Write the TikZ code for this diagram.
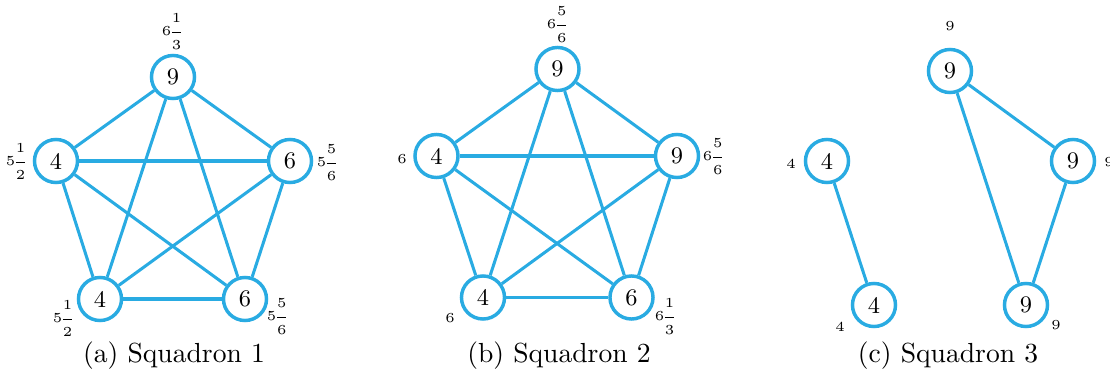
\documentclass[tikz,border=0pt]{standalone}
\definecolor{sqblue}{RGB}{41,171,226}
\newcommand{\mixfr}[3]{$\nulldelimiterspace=0.25pt\displaystyle #1\frac{#2}{#3}$}
\begin{document}
\begin{tikzpicture}[x=0.3623pt,y=-0.3623pt,
  pnode/.style={circle,draw=sqblue,line width=1.25pt,minimum size=15.6pt,inner sep=0pt,fill=white,font=\fontsize{8.6}{10}\selectfont},
  plabel/.style={font=\tiny,inner sep=0pt},
  pedge/.style={draw=sqblue,line width=1.1pt},
  pcap/.style={anchor=base,inner sep=0pt,font=\normalsize}]
\useasboundingbox (0,0) rectangle (1110,370);
% ---------- (a)
\node[pnode] (a1) at (173,77) {9};
\node[pnode] (a2) at (56,161) {4};
\node[pnode] (a3) at (290,161) {6};
\node[pnode] (a4) at (100,299) {4};
\node[pnode] (a5) at (245,299) {6};
\foreach \u/\v in {a1/a2,a1/a3,a1/a4,a1/a5,a2/a3,a2/a4,a2/a5,a3/a4,a3/a5,a4/a5}
  \draw[pedge] (\u) -- (\v);
\node[plabel] (la1) at (172,32) {\mixfr{6}{1}{3}};
\node[plabel] (la2) at (16,162) {\mixfr{5}{1}{2}};
\node[plabel] (la3) at (327,163) {\mixfr{5}{5}{6}};
\node[plabel] (la4) at (63,319) {\mixfr{5}{1}{2}};
\node[plabel] (la5) at (277,317) {\mixfr{5}{5}{6}};
\node[pcap] (ca) at (174,363) {(a) Squadron 1};
% ---------- (b)
\node[pnode] (b1) at (557.5,69) {9};
\node[pnode] (b2) at (436.5,156) {4};
\node[pnode] (b3) at (677,156) {9};
\node[pnode] (b4) at (483,297.5) {4};
\node[pnode] (b5) at (631.5,297.5) {6};
\foreach \u/\v in {b1/b2,b1/b3,b1/b4,b1/b5,b2/b3,b2/b4,b2/b5,b3/b4,b3/b5,b4/b5}
  \draw[pedge] (\u) -- (\v);
\node[plabel] (lb1) at (557,25) {\mixfr{6}{5}{6}};
\node[plabel] (lb2) at (402,159) {$6$};
\node[plabel] (lb3) at (713,157) {\mixfr{6}{5}{6}};
\node[plabel] (lb4) at (450,318) {$6$};
\node[plabel] (lb5) at (665,317) {\mixfr{6}{1}{3}};
\node[pcap] (cb) at (559,363) {(b) Squadron 2};
% ---------- (c)
\node[pnode] (c1) at (950,71) {9};
\node[pnode] (c2) at (827,161) {4};
\node[pnode] (c3) at (1073,161) {9};
\node[pnode] (c4) at (874,305) {4};
\node[pnode] (c5) at (1026,305) {9};
\foreach \u/\v in {c2/c4,c1/c3,c1/c5,c3/c5}
  \draw[pedge] (\u) -- (\v);
\node[plabel] (lc1) at (950,26) {$9$};
\node[plabel] (lc2) at (791,164) {$4$};
\node[plabel] (lc3) at (1109,162) {$9$};
\node[plabel] (lc4) at (840,327) {$4$};
\node[plabel] (lc5) at (1056,325) {$9$};
\node[pcap] (cc) at (948,363) {(c) Squadron 3};
\end{tikzpicture}
\end{document}
